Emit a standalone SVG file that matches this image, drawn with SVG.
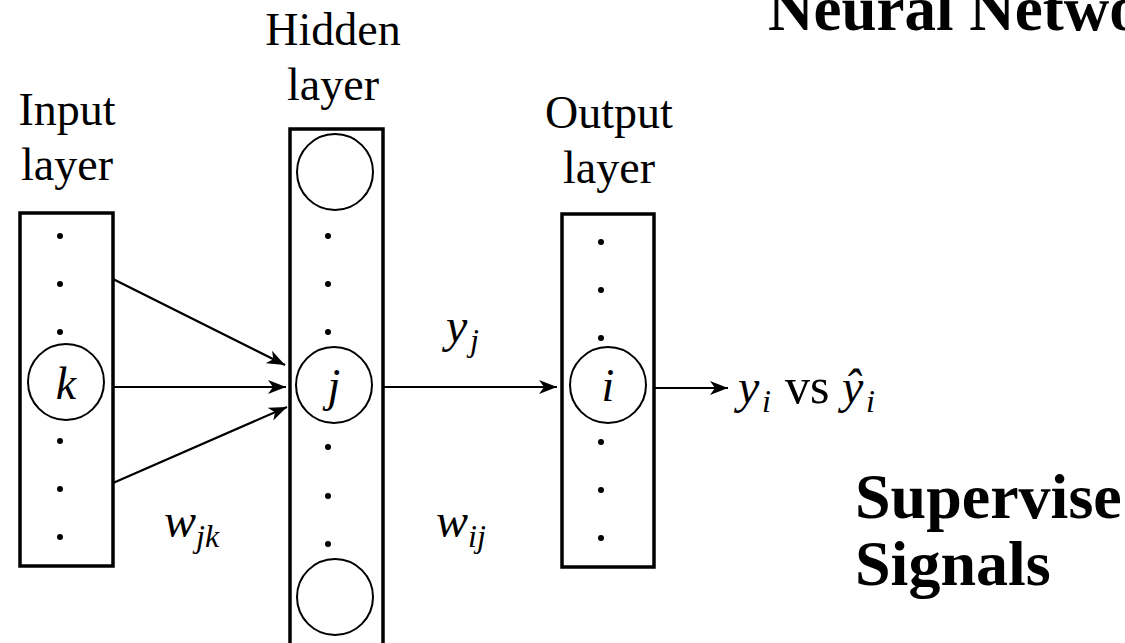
<svg xmlns="http://www.w3.org/2000/svg" width="1125" height="643" viewBox="0 0 1125 643">
<defs>
<style>
.box{fill:none;stroke:#000;stroke-width:3.5}
.node{fill:none;stroke:#000;stroke-width:2}
.dot{fill:#000}
.lbl{font-family:"Liberation Serif","Times New Roman",serif;font-size:46px;fill:#000;text-anchor:middle}
.bold{font-family:"Liberation Serif","Times New Roman",serif;font-weight:bold;fill:#000}
.math{font-family:"Liberation Serif","Times New Roman",serif;font-style:italic;fill:#000}
.up{font-family:"Liberation Serif","Times New Roman",serif;fill:#000}
.conn{stroke:#000;stroke-width:2.2;fill:none}
</style>
<marker id="arr" markerUnits="userSpaceOnUse" markerWidth="20" markerHeight="16" refX="18" refY="8" orient="auto">
<path d="M0,1 L18,8 L0,15 L5,8 z" fill="#000"/>
</marker>
</defs>
<rect width="1125" height="643" fill="#fff"/>

<text class="bold" x="768" y="30" font-size="63">Neural Networks</text>

<g id="input-layer">
<text class="lbl" x="67" y="125">Input</text>
<text class="lbl" x="67" y="180">layer</text>
<rect class="box" x="20" y="213" width="93" height="353"/>
<circle class="dot" cx="60" cy="236" r="3"/>
<circle class="dot" cx="60" cy="284" r="3"/>
<circle class="dot" cx="60" cy="332" r="3"/>
<circle class="node" cx="66" cy="382" r="38"/>
<text class="math" x="66" y="399" font-size="46" text-anchor="middle">k</text>
<circle class="dot" cx="60" cy="441" r="3"/>
<circle class="dot" cx="60" cy="489" r="3"/>
<circle class="dot" cx="60" cy="537" r="3"/>
</g>

<g id="hidden-layer">
<text class="lbl" x="333" y="45">Hidden</text>
<text class="lbl" x="333" y="100">layer</text>
<rect class="box" x="290" y="129" width="93" height="540"/>
<circle class="node" cx="335" cy="172" r="38"/>
<circle class="dot" cx="328" cy="236" r="3"/>
<circle class="dot" cx="328" cy="284" r="3"/>
<circle class="dot" cx="328" cy="332" r="3"/>
<circle class="node" cx="334" cy="385" r="38"/>
<text class="math" x="334" y="401" font-size="46" text-anchor="middle">j</text>
<circle class="dot" cx="328" cy="447" r="3"/>
<circle class="dot" cx="328" cy="496" r="3"/>
<circle class="dot" cx="328" cy="544" r="3"/>
<circle class="node" cx="335" cy="597" r="38"/>
</g>

<g id="output-layer">
<text class="lbl" x="609" y="128">Output</text>
<text class="lbl" x="609" y="183">layer</text>
<rect class="box" x="562" y="214" width="92" height="353"/>
<circle class="dot" cx="601" cy="242" r="3"/>
<circle class="dot" cx="601" cy="290" r="3"/>
<circle class="dot" cx="601" cy="338" r="3"/>
<circle class="node" cx="608" cy="385" r="38"/>
<text class="math" x="608" y="401" font-size="46" text-anchor="middle">i</text>
<circle class="dot" cx="601" cy="442" r="3"/>
<circle class="dot" cx="601" cy="490" r="3"/>
<circle class="dot" cx="601" cy="538" r="3"/>
</g>

<g id="connectors">
<line class="conn" x1="113" y1="279" x2="285" y2="365" marker-end="url(#arr)"/>
<line class="conn" x1="113" y1="387" x2="286" y2="387" marker-end="url(#arr)"/>
<line class="conn" x1="113" y1="483" x2="287" y2="407" marker-end="url(#arr)"/>
<line class="conn" x1="383" y1="387" x2="557" y2="387" marker-end="url(#arr)"/>
<line class="conn" x1="654" y1="388" x2="728" y2="388" marker-end="url(#arr)"/>
</g>

<g id="labels">
<text class="math" x="446" y="342" font-size="48">y</text>
<text class="math" x="470" y="351" font-size="32">j</text>

<text class="math" x="164" y="537" font-size="48">w</text>
<text class="math" x="196" y="547" font-size="32">jk</text>

<text class="math" x="436" y="537" font-size="48">w</text>
<text class="math" x="468" y="547" font-size="32">ij</text>

<text class="math" x="738" y="403" font-size="48">y</text>
<text class="math" x="762" y="412" font-size="32">i</text>
<text class="up" x="785" y="403" font-size="50">vs</text>
<text class="math" x="842" y="403" font-size="48">ŷ</text>
<text class="math" x="866" y="412" font-size="32">i</text>
</g>

<g id="supervise">
<text class="bold" x="855" y="518" font-size="64">Supervise</text>
<text class="bold" x="855" y="585" font-size="64">Signals</text>
</g>
</svg>
